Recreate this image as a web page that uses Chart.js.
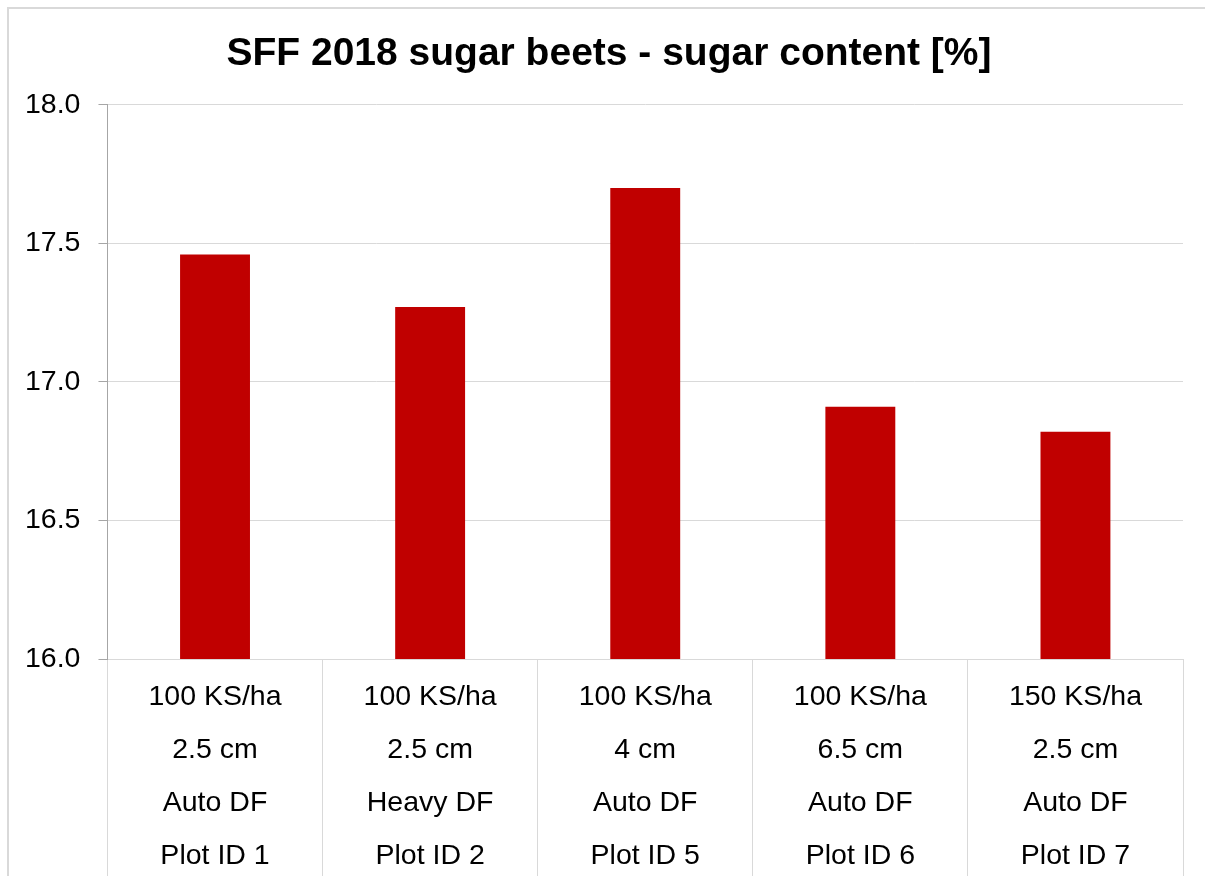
<!DOCTYPE html>
<html lang="en">
<head>
  <meta charset="UTF-8">
  <title>SFF 2018 sugar beets</title>
  <style>
    html, body { margin: 0; padding: 0; background: #fff; overflow: hidden; }
    .frame { position: absolute; left: 7px; top: 7px; width: 1400px; height: 1000px; border: 2px solid #d9d9d9; pointer-events: none; }
    .wrap { position: absolute; left: 0; top: 0; width: 1205px; height: 876px; }
  </style>
</head>
<body>
  <div class="frame"></div>
  <div class="wrap"><canvas id="myChart"></canvas></div>

<script src="https://cdn.jsdelivr.net/npm/chart.js"></script>
<script>
  // categories (multi-line labels) and values
  var categorias = [
    ['100 KS/ha', '2.5 cm', 'Auto DF', 'Plot ID 1'],
    ['100 KS/ha', '2.5 cm', 'Heavy DF', 'Plot ID 2'],
    ['100 KS/ha', '4 cm', 'Auto DF', 'Plot ID 5'],
    ['100 KS/ha', '6.5 cm', 'Auto DF', 'Plot ID 6'],
    ['150 KS/ha', '2.5 cm', 'Auto DF', 'Plot ID 7']
  ];
  var teorAcucar = [17.46, 17.27, 17.70, 16.91, 16.82];
  var yMin = 16.0;
  var yMax = 18.0;
  var yPasso = 0.5;

  // nudge the title box a bit to the right, like the original
  const moverTitulo = {
    id: 'moverTitulo',
    afterLayout(chart) {
      const t = chart.titleBlock;
      if (t) { t.left += 14; t.right += 14; }
    }
  };

  const ctx = document.getElementById('myChart');
  new Chart(ctx, {
    type: 'bar',
    data: {
      labels: categorias,
      datasets: [{
        label: 'sugar content',
        data: teorAcucar,
        backgroundColor: '#c00000',
        borderWidth: 0,
        barPercentage: 0.325,
        categoryPercentage: 1
      }]
    },
    plugins: [moverTitulo],
    options: {
      responsive: true,
      maintainAspectRatio: false,
      animation: false,
      layout: { padding: { top: 31, left: 7, right: 22, bottom: 0 } },
      plugins: {
        legend: { display: false },
        tooltip: { enabled: false },
        title: {
          display: true,
          text: 'SFF 2018 sugar beets - sugar content [%]',
          color: '#000',
          font: { family: 'Liberation Sans', size: 39, weight: 'bold', lineHeight: 1.2 },
          padding: { top: 0, bottom: 27 }
        }
      },
      scales: {
        x: {
          afterFit: function (s) { s.height = 217; },
          border: { display: true, color: '#d9d9d9', width: 1 },
          grid: {
            offset: true,
            drawOnChartArea: false,
            drawTicks: true,
            tickLength: 220,
            tickColor: '#d9d9d9',
            color: '#d9d9d9'
          },
          ticks: {
            color: '#000',
            padding: -208,
            maxRotation: 0,
            autoSkip: false,
            font: { family: 'Liberation Sans', size: 28.5, lineHeight: 1.86 }
          }
        },
        y: {
          min: yMin,
          max: yMax,
          border: { display: true, color: '#a6a6a6', width: 1 },
          grid: {
            color: '#d9d9d9',
            tickColor: '#a6a6a6',
            tickLength: 9,
            drawTicks: true
          },
          ticks: {
            stepSize: yPasso,
            color: '#000',
            padding: 18,
            font: { family: 'Liberation Sans', size: 28.5 },
            callback: function (v) { return v.toFixed(1); }
          }
        }
      }
    }
  });
</script>
</body>
</html>
